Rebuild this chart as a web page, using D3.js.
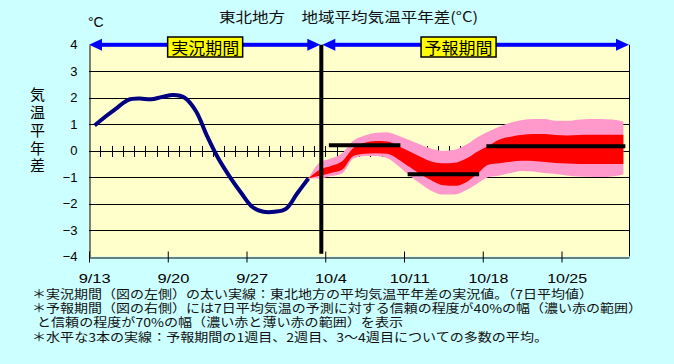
<!DOCTYPE html>
<html><head><meta charset="utf-8">
<script src="https://cdn.jsdelivr.net/npm/d3@7"></script>
<style>
html,body{margin:0;padding:0;background:#ccffff;}
svg{display:block;}
</style></head><body>
<svg id="c" width="674" height="364"></svg>
<script>
// ---------- data ----------
const categories = ["9/13","9/14","9/15","9/16","9/17","9/18","9/19","9/20","9/21","9/22","9/23","9/24","9/25","9/26","9/27","9/28","9/29","9/30",
  "10/1","10/2","10/3","10/4","10/5","10/6","10/7","10/8","10/9","10/10","10/11","10/12","10/13","10/14","10/15","10/16","10/17",
  "10/18","10/19","10/20","10/21","10/22","10/23","10/24","10/25","10/26","10/27","10/28","10/29","10/30"];
const tickLabels = ["9/13","9/20","9/27","10/4","10/11","10/18","10/25"];
const yTicks = [4,3,2,1,0,-1,-2,-3,-4];
// observed 7-day mean anomaly, 9/13 .. 10/2
const observed = [0.95,1.3,1.62,1.92,1.97,1.94,2.03,2.1,2.0,1.5,0.55,-0.3,-0.98,-1.58,-2.12,-2.31,-2.31,-2.2,-1.62,-1.05];
// forecast band, 10/2 .. 10/30
const bandStart = "10/2";
const pinkUpper = [-1.05,-0.45,-0.3,-0.1,0.38,0.57,0.68,0.7,0.56,0.39,0.22,0.06,-0.01,0.03,0.22,0.5,0.72,0.91,1.06,1.16,1.2,1.2,1.13,1.13,1.17,1.2,1.2,1.18,1.1];
const redUpper  = [-1.05,-0.72,-0.58,-0.4,0.1,0.3,0.36,0.35,0.17,-0.03,-0.24,-0.42,-0.48,-0.46,-0.31,-0.04,0.18,0.42,0.53,0.6,0.63,0.63,0.59,0.57,0.59,0.6,0.6,0.6,0.6];
const redLower  = [-1.05,-0.95,-0.84,-0.72,-0.2,-0.12,-0.1,-0.12,-0.33,-0.62,-0.9,-1.14,-1.31,-1.33,-1.2,-0.88,-0.53,-0.48,-0.42,-0.38,-0.39,-0.43,-0.47,-0.49,-0.5,-0.5,-0.5,-0.5,-0.5];
const pinkLower = [-1.05,-1.05,-0.96,-0.86,-0.3,-0.2,-0.2,-0.28,-0.58,-0.94,-1.26,-1.53,-1.66,-1.66,-1.5,-1.25,-1.0,-0.94,-0.84,-0.77,-0.79,-0.84,-0.88,-0.94,-0.98,-0.99,-1.0,-0.98,-0.9];
// ensemble mean of week 1, week 2, weeks 3-4
const weeklyMeans = [0.2, -0.89, 0.17];
const weeklyFrom = ["10/4","10/11","10/18"];
const weeklyTo = ["10/10","10/17","10/30"];
const forecastSplit = 20.65; // boundary between observed and forecast period (category units)
const title = "東北地方　地域平均気温平年差(°C)";
const unitLabel = "°C";
const yTitle = "気温平年差";
const periodLabels = ["実況期間","予報期間"];
const notes = [
  "＊実況期間（図の左側）の太い実線：東北地方の平均気温平年差の実況値。（7日平均値）",
  "＊予報期間（図の右側）には7日平均気温の予測に対する信頼の程度が40%の幅（濃い赤の範囲）",
  "と信頼の程度が70%の幅（濃い赤と薄い赤の範囲）を表示",
  "＊水平な3本の実線：予報期間の1週目、2週目、3～4週目についての多数の平均。"
];

// ---------- layout ----------
const svg = d3.select("#c");
const L = 89, R = 629, T = 44.8, B = 256.5;
const x = d3.scaleLinear().domain([0, categories.length]).range([L, R]);
const cx = i => x(i + 0.5);
const y = d3.scaleLinear().domain([-4, 4]).range([B, T]);
const jp = "'Noto Sans CJK JP','Noto Sans',sans-serif";
const lat = "'Liberation Sans',Arial,sans-serif";

// plot background
svg.append("rect").attr("x", L).attr("y", T).attr("width", R - L).attr("height", B - T).attr("fill", "#ffffcc");

// grid lines
svg.append("g").selectAll("line").data(yTicks.filter(d => d !== 4 && d !== -4)).join("line")
  .attr("x1", L).attr("x2", R).attr("y1", d => Math.round(y(d)) + 0.5).attr("y2", d => Math.round(y(d)) + 0.5)
  .attr("stroke", "#000").attr("stroke-width", 1);
// daily ticks on the zero line
svg.append("g").selectAll("line").data(d3.range(1, categories.length)).join("line")
  .attr("x1", d => Math.round(x(d)) + 0.5).attr("x2", d => Math.round(x(d)) + 0.5)
  .attr("y1", Math.round(y(0)) - 5).attr("y2", Math.round(y(0)) + 6)
  .attr("stroke", "#000").attr("stroke-width", 1);

// forecast band
const s0 = categories.indexOf(bandStart);
const bandIdx = d3.range(pinkUpper.length);
const area = (up, lo) => d3.area().curve(d3.curveMonotoneX)
  .x(i => cx(s0 + i)).y0(i => y(lo[i])).y1(i => y(up[i]));
svg.append("path").datum(bandIdx).attr("d", area(pinkUpper, pinkLower)).attr("fill", "#ff99cc");
svg.append("path").datum(bandIdx).attr("d", area(redUpper, redLower)).attr("fill", "#ff0000");

// observed line
svg.append("path").datum(observed)
  .attr("d", d3.line().curve(d3.curveCatmullRom.alpha(0.5)).x((d, i) => cx(i)).y(d => y(d)))
  .attr("fill", "none").attr("stroke", "#000080").attr("stroke-width", 4).attr("stroke-linejoin", "round");

// weekly mean lines
svg.append("g").selectAll("line").data(weeklyMeans).join("line")
  .attr("x1", (d, i) => cx(categories.indexOf(weeklyFrom[i])))
  .attr("x2", (d, i) => cx(categories.indexOf(weeklyTo[i])))
  .attr("y1", d => y(d)).attr("y2", d => y(d))
  .attr("stroke", "#000").attr("stroke-width", 4).attr("stroke-linecap", "square");

// split line
svg.append("line").attr("x1", x(forecastSplit)).attr("x2", x(forecastSplit))
  .attr("y1", y(4)).attr("y2", y(-3.9)).attr("stroke", "#000").attr("stroke-width", 4);

// right border
svg.append("line").attr("x1", R + 0.5).attr("x2", R + 0.5).attr("y1", T).attr("y2", B).attr("stroke", "#000");

// y axis
const yAxis = svg.append("g").attr("transform", `translate(${L + 0.5},0)`)
  .call(d3.axisLeft(y).tickValues(yTicks).tickSize(0).tickPadding(12)
    .tickFormat(d => d < 0 ? "−" + (-d) : String(d)));
yAxis.select(".domain").attr("stroke", "#000");
yAxis.selectAll("text").attr("font-family", lat).attr("font-size", 13).attr("fill", "#000");

// x axis
const tickIdx = tickLabels.map(l => categories.indexOf(l));
const xAxis = svg.append("g").attr("transform", `translate(0,${Math.round(B) + 0.5})`)
  .call(d3.axisBottom(x).tickValues(tickIdx).tickSizeInner(5).tickSizeOuter(0).tickFormat(""));
xAxis.select(".domain").attr("stroke", "#000");
xAxis.selectAll(".tick line").attr("y1", -6).attr("stroke", "#000");
svg.append("g").selectAll("text").data(tickLabels).join("text")
  .attr("x", d => cx(categories.indexOf(d))).attr("y", 283)
  .attr("text-anchor", "middle").attr("font-family", lat).attr("font-size", 13)
  .attr("textLength", d => d.length * 8).attr("lengthAdjust", "spacingAndGlyphs")
  .text(d => d);

// period arrows
const arrow = (x0, x1) => {
  const g = svg.append("g").attr("fill", "#0000ff");
  g.append("rect").attr("x", x0 + 8).attr("y", y(4) - 2).attr("width", x1 - x0 - 16).attr("height", 4);
  g.append("path").attr("d", `M${x0},${y(4)} L${x0 + 13},${y(4) - 6} L${x0 + 13},${y(4) + 6} Z`);
  g.append("path").attr("d", `M${x1},${y(4)} L${x1 - 13},${y(4) - 6} L${x1 - 13},${y(4) + 6} Z`);
};
arrow(x(0), x(forecastSplit) - 1);
arrow(x(forecastSplit) + 1, x(categories.length));

// period labels
const labelCenters = [(x(0) + x(forecastSplit)) / 2, cx(32.35)];
periodLabels.forEach((t, i) => {
  const g = svg.append("g");
  g.append("rect").attr("x", labelCenters[i] - 37.5).attr("y", 37).attr("width", 75).attr("height", 20)
    .attr("fill", "#ffff00").attr("stroke", "#000").attr("stroke-width", 1.5);
  g.append("text").attr("x", labelCenters[i]).attr("y", 53.5).attr("text-anchor", "middle")
    .attr("font-family", jp).attr("font-size", 16).attr("textLength", 68).attr("lengthAdjust", "spacingAndGlyphs")
    .text(t);
});

// title & unit
svg.append("text").attr("x", 219).attr("y", 21.5).attr("font-family", jp).attr("font-size", 14)
  .attr("textLength", 259).attr("lengthAdjust", "spacingAndGlyphs").attr("fill", "#111").text(title);
svg.append("text").attr("x", 88).attr("y", 27).attr("font-family", lat).attr("font-size", 14).text(unitLabel);

// vertical y title
svg.append("text").attr("x", 37.5).attr("y", 87)
  .attr("font-family", jp).attr("font-size", 15)
  .style("writing-mode", "vertical-rl").style("letter-spacing", "2.8px")
  .text(yTitle);

// notes (one text block, one line per tspan)
const noteX = [32, 32, 37, 32];
const noteW = [561, 610, 366, 516];
svg.append("text").attr("font-family", jp).attr("font-size", 12).attr("fill", "#111")
  .selectAll("tspan").data(notes).join("tspan")
  .attr("x", (d, i) => noteX[i]).attr("y", (d, i) => 299 + i * 14.2)
  .attr("textLength", (d, i) => noteW[i]).attr("lengthAdjust", "spacingAndGlyphs")
  .text(d => d);
</script>
</body></html>
